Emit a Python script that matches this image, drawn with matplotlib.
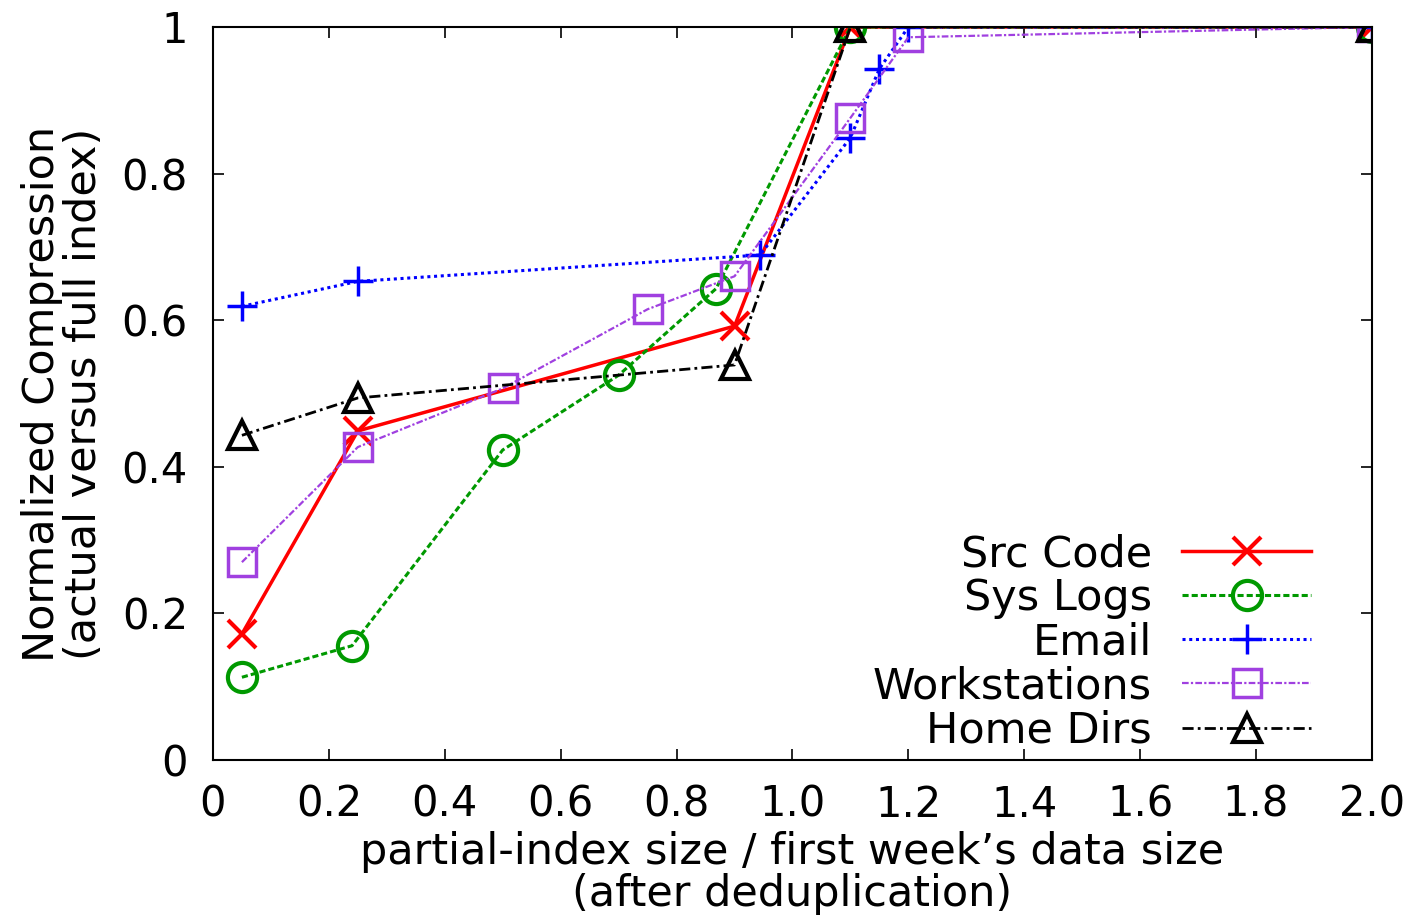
import matplotlib
matplotlib.use('Agg')
import matplotlib.pyplot as plt

plt.rcParams['font.family'] = ['DejaVu Sans']

src_x = [0.05, 0.25, 0.9, 1.1, 2.0]
src_y = [0.172, 0.449, 0.592, 1.0, 1.0]

sys_x = [0.05, 0.24, 0.5, 0.7, 0.868, 1.1, 2.0]
sys_y = [0.113, 0.156, 0.423, 0.525, 0.643, 1.0, 1.0]

email_x = [0.05, 0.25, 0.944, 1.1, 1.15, 1.2, 2.0]
email_y = [0.619, 0.653, 0.689, 0.849, 0.943, 1.0, 1.0]

ws_x = [0.05, 0.25, 0.5, 0.75, 0.9, 1.1, 1.2, 2.0]
ws_y = [0.27, 0.427, 0.507, 0.615, 0.66, 0.876, 0.986, 1.0]

home_x = [0.05, 0.25, 0.9, 1.1, 2.0]
home_y = [0.443, 0.494, 0.539, 1.0, 1.0]

xticks = [0, 0.2, 0.4, 0.6, 0.8, 1.0, 1.2, 1.4, 1.6, 1.8, 2.0]
xticklabels = ['0', '0.2', '0.4', '0.6', '0.8', '1.0', '1.2', '1.4', '1.6', '1.8', '2.0']
yticks = [0, 0.2, 0.4, 0.6, 0.8, 1]
yticklabels = ['0', '0.2', '0.4', '0.6', '0.8', '1']

fs = 31

fig = plt.figure(figsize=(14.13, 9.18), dpi=100)
ax = fig.add_axes([0.1507, 0.172, 0.8203, 0.7986])

ax.plot(src_x, src_y, color='#ff0000', ls='-', lw=2.5, marker='x', ms=20, mew=3,
        label='Src Code')
ax.plot(sys_x, sys_y, color='#009900', ls=(0, (2, 1)), lw=2.2, marker='o', ms=21,
        mfc='none', mew=3, label='Sys Logs')
ax.plot(email_x, email_y, color='#0000ff', ls=(0, (1, 1.2)), lw=2.2, marker='+', ms=21,
        mew=2.5, label='Email')
ax.plot(ws_x, ws_y, color='#a040e0', ls=(0, (3, 1, 1, 1)), lw=1.6, marker='s', ms=20,
        mfc='none', mew=2.5, label='Workstations')
ax.plot(home_x, home_y, color='#000000', ls=(0, (4, 1.5, 1, 1.5)), lw=2, marker='^', ms=20,
        mfc='none', mew=3, label='Home Dirs')

ax.set_xlim(0, 2.0)
ax.set_ylim(0, 1)
ax.set_xticks(xticks)
ax.set_xticklabels(xticklabels)
ax.set_yticks(yticks)
ax.set_yticklabels(yticklabels)
ax.tick_params(direction='in', top=True, right=True, length=8, width=1.2,
               labelsize=30)
ax.tick_params(axis='x', pad=17)
ax.tick_params(axis='y', pad=18)
for s in ax.spines.values():
    s.set_linewidth(1.5)

ax.set_xlabel('partial-index size / first week\u2019s data size\n(after deduplication)',
              fontsize=fs, linespacing=1.0)
ax.xaxis.set_label_coords(0.5, -0.097)
ax.set_ylabel('Normalized Compression\n(actual versus full index)',
              fontsize=fs, linespacing=1.0)
ax.yaxis.set_label_coords(-0.093, 0.5)

ax.legend(loc='lower right', markerfirst=False, frameon=False, fontsize=fs,
          handlelength=3.0, handletextpad=0.7, labelspacing=0.05,
          borderaxespad=0.0, bbox_to_anchor=(0.9625, -0.012))

fig.savefig('out.png', dpi=100)
